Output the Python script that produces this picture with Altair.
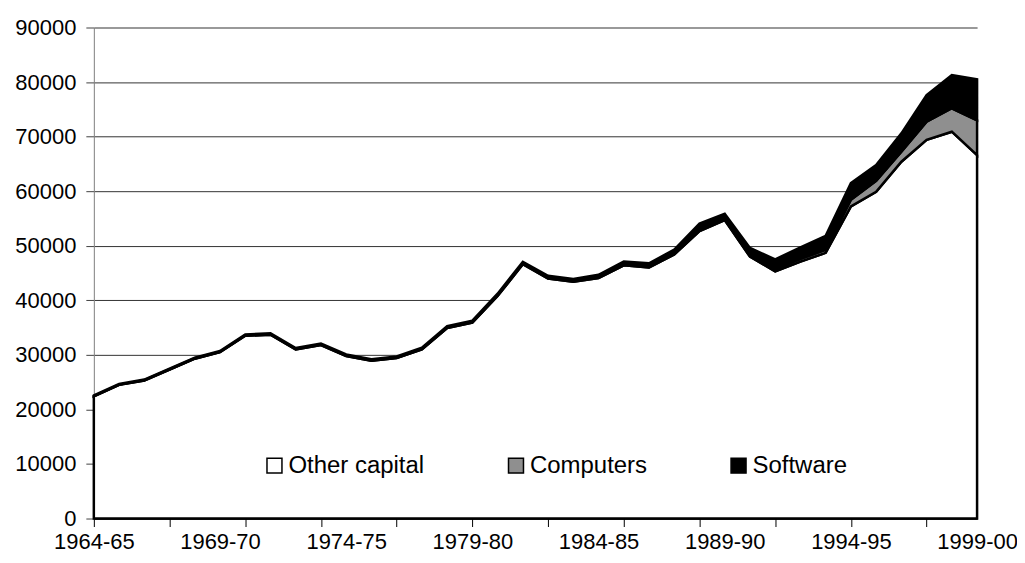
import json
import altair as alt
import pandas as pd

periods = ["1964-65", "1965-66", "1966-67", "1967-68", "1968-69", "1969-70",
           "1970-71", "1971-72", "1972-73", "1973-74", "1974-75", "1975-76",
           "1976-77", "1977-78", "1978-79", "1979-80", "1980-81", "1981-82",
           "1982-83", "1983-84", "1984-85", "1985-86", "1986-87", "1987-88",
           "1988-89", "1989-90", "1990-91", "1991-92", "1992-93", "1993-94",
           "1994-95", "1995-96", "1996-97", "1997-98", "1998-99", "1999-00"]

other_capital = [22400, 24500, 25300, 27300, 29300, 30500, 33500, 33700, 31000,
                 31800, 29800, 28900, 29400, 31000, 34900, 35900, 40800, 46600,
                 44000, 43400, 44100, 46400, 46000, 48400, 52700, 54700, 48000,
                 45300, 47100, 48700, 57200, 59900, 65400, 69400, 70900, 66600]

computers = [50, 50, 60, 60, 70, 70, 80, 80, 80, 90, 90, 100, 100, 110, 120, 130,
             150, 170, 180, 200, 220, 250, 280, 250, 300, 350, 400, 450, 500, 550,
             1250, 2000, 1850, 3350, 4300, 6400]

software = [100, 100, 110, 120, 130, 140, 150, 160, 170, 180, 190, 200, 210, 220,
            230, 240, 260, 280, 300, 320, 350, 450, 500, 640, 1050, 820, 1190, 1750,
            2120, 2570, 3050, 2900, 3350, 4850, 6100, 7500]

series_names = ["Other capital", "Computers", "Software"]
series_colors = ["#ffffff", "#8f8f8f", "#000000"]
y_ticks = [0, 10000, 20000, 30000, 40000, 50000, 60000, 70000, 80000, 90000]

rows = []
for k, (name, vals) in enumerate(zip(series_names, [other_capital, computers, software])):
    for i, v in enumerate(vals):
        rows.append({"idx": i, "period": periods[i], "series": name, "value": v, "ord": k})
df = pd.DataFrame(rows)

FONT = "Liberation Sans"
label_expr = "datum.value % 5 === 0 ? " + json.dumps(periods) + "[datum.value] : ''"

chart = alt.Chart(df).mark_area(
    stroke="black", strokeWidth=2.5, strokeJoin="miter", interpolate="linear"
).encode(
    x=alt.X("idx:Q",
            scale=alt.Scale(domain=[0, 35], nice=False, zero=False, padding=0),
            axis=alt.Axis(title=None, values=list(range(36)), labelExpr=label_expr,
                          labelOverlap=False, labelFlush=False, labelBound=False,
                          labelFont=FONT, labelFontSize=22, labelColor="black",
                          labelPadding=5, labelAngle=0,
                          tickSize=8, tickColor="black", tickWidth=1,
                          tickOpacity={"condition": {"test": "datum.value % 3 === 0", "value": 1}, "value": 0},
                          domainColor="black", domainWidth=1.5, grid=False)),
    y=alt.Y("value:Q", stack="zero",
            scale=alt.Scale(domain=[0, 90000], nice=False),
            axis=alt.Axis(title=None, values=y_ticks, format="d",
                          labelFont=FONT, labelFontSize=22, labelColor="black",
                          labelPadding=10, tickSize=8, tickColor="#404040", tickWidth=1,
                          domainColor="#808080", domainWidth=1,
                          grid=True, gridColor="#333333", gridWidth=1)),
    color=alt.Color("series:N",
                    scale=alt.Scale(domain=series_names, range=series_colors),
                    legend=alt.Legend(title=None, orient="none", legendX=169, legendY=427,
                                      direction="horizontal", columns=3, columnPadding=79,
                                      symbolType="square", symbolSize=225,
                                      symbolStrokeColor="black", symbolStrokeWidth=1.5,
                                      symbolOpacity=1,
                                      labelFont=FONT, labelFontSize=24, labelColor="black",
                                      labelOffset=2, labelLimit=300)),
    order=alt.Order("ord:Q", sort="ascending"),
).properties(
    width=885, height=492,
    padding={"left": 86, "top": 19, "right": 40, "bottom": 36},
    autosize=alt.AutoSizeParams(type="none"),
    background="white",
).configure_view(strokeWidth=0)

chart.save("out.html", embed_options={"renderer": "svg", "actions": False})
